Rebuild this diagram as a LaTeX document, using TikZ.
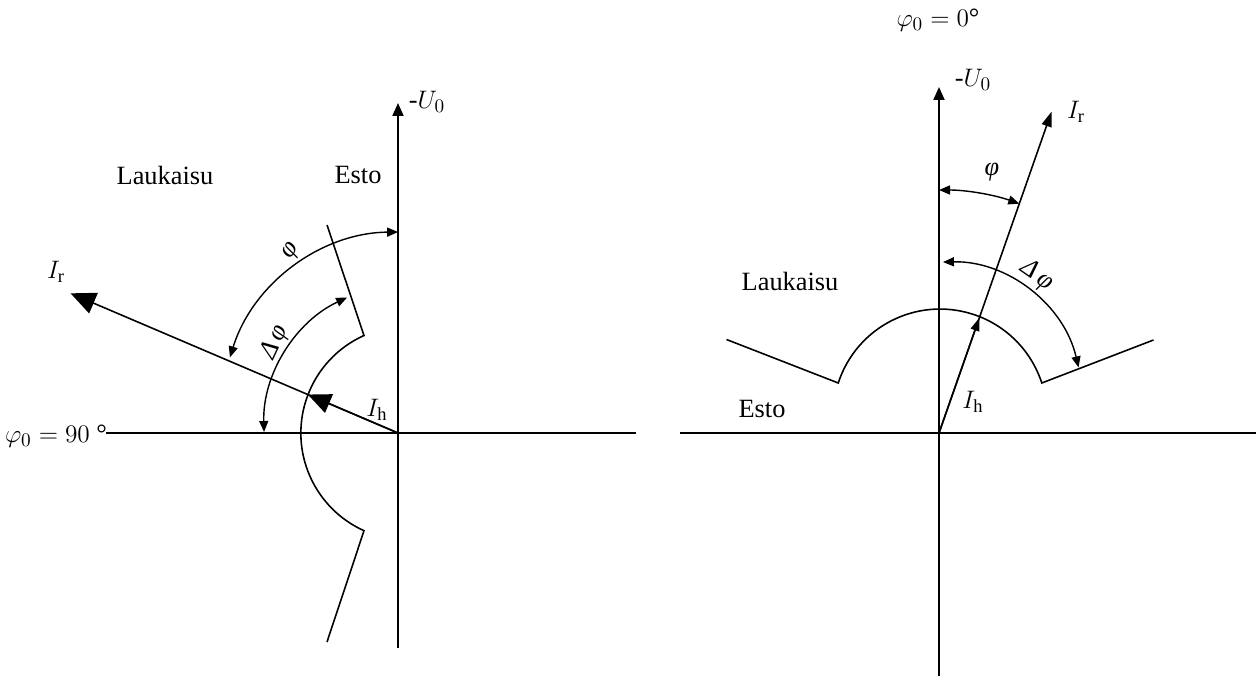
\documentclass[tikz,border=0pt]{standalone}
\usepackage{amsmath}
\usepackage{fontspec}
\setmainfont{Liberation Serif}
\usetikzlibrary{arrows.meta}

\begin{document}
\begin{tikzpicture}[
    axis/.style={line width=1.1pt, -{Triangle[length=0.26cm, width=0.22cm]}},
    vec/.style={line width=0.9pt},
    angarrow/.style={line width=0.8pt, {Triangle[length=0.22cm, width=0.18cm]}-{Triangle[length=0.22cm, width=0.18cm]}},
    lbl/.style={font=\fontsize{15}{18}\selectfont, inner sep=0pt}
]
    \useasboundingbox (-7.96,-4.9) rectangle (17.16,8.66);

    % left: phi_0 = 90
    \coordinate (O1) at (0,0);
    \draw[line width=1.1pt] (-5.84,0) -- (4.76,0);
    \draw[axis] (0,-4.3) -- (0,6.6);
    \node[lbl] at (0.58,6.62) {-$U_0$};
    \node[lbl] at (-6.84,-0.06) {$\varphi_0 = 90$ °};
    \node[lbl] at (-4.66,5.16) {Laukaisu};
    \node[lbl] at (-0.8,5.16) {Esto};

    \draw[vec, -{Triangle[length=0.5cm, width=0.44cm]}] (O1) -- (156.9:7.12) coordinate (Ir1);
    \node[lbl] at (-6.84,3.22) {$I_{\mathrm{r}}$};
    \draw[vec, -{Triangle[length=0.46cm, width=0.4cm]}] (O1) -- (156.9:1.96) coordinate (Ih1);
    \node[lbl] at (-0.42,0.46) {$I_{\mathrm{h}}$};

    \draw[angarrow] (0.04,0.46) ++(162.8:3.56) arc[start angle=162.8, end angle=90.6, radius=3.56];
    \node[lbl, rotate=55] at (-2.12,3.62) {\textit{φ}};
    \draw[angarrow] (0.2,0.1) ++(181.6:2.88) arc[start angle=181.6, end angle=115, radius=2.88];
    \node[lbl, rotate=65] at (-2.46,1.82) {\textit{Δ\,φ}};

    \draw[vec] (-1.42,4.16) -- (-0.68,1.95) arc[start angle=114.2, end angle=245.8, radius=2.14] -- (-1.42,-4.18);

    % right: phi_0 = 0
    \coordinate (O2) at (10.82,0);
    \draw[line width=1.1pt] (5.64,0) -- (17.16,0);
    \draw[axis] (10.82,-4.86) -- (10.82,6.92);
    \node[lbl] at (11.5,7.06) {-$U_0$};
    \node[lbl] at (10.8,8.26) {$\varphi_0 = 0$°};
    \node[lbl] at (7.84,3.04) {Laukaisu};
    \node[lbl] at (7.28,0.48) {Esto};

    \draw[vec, -{Triangle[length=0.3cm, width=0.2cm]}] (O2) -- ++(70.7:6.81) coordinate (Ir2);
    \node[lbl] at (13.56,6.42) {$I_{\mathrm{r}}$};
    \draw[vec, -{Triangle[length=0.26cm, width=0.18cm]}] (O2) -- ++(70.7:2.44) coordinate (Ih2);
    \node[lbl] at (11.5,0.62) {$I_{\mathrm{h}}$};

    \draw[angarrow] (O2) ++(70.7:4.86) arc[start angle=70.7, end angle=90, radius=4.86];
    \node[lbl] at (11.88,5.22) {\textit{φ}};
    \draw[angarrow] (10.96,0.7) ++(13:2.72) arc[start angle=13, end angle=91.3, radius=2.72];
    \node[lbl, rotate=-35] at (12.78,3.14) {\textit{Δ\,φ}};

    \draw[vec] (6.57,1.87) -- (8.805,1.0) arc[start angle=162, end angle=18, radius=2.14] -- (15.11,1.86);
\end{tikzpicture}
\end{document}
